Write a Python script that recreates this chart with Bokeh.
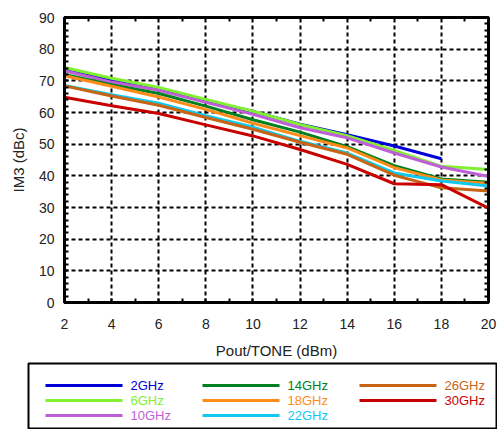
from bokeh.plotting import figure
from bokeh.models import FixedTicker, LinearAxis, Range1d, ColumnDataSource
from bokeh.core.properties import value
from bokeh.embed import file_html
from bokeh.resources import INLINE

# ---- data ----
pout = [2, 4, 6, 8, 10, 12, 14, 16, 18, 20]
labels = ["2GHz", "6GHz", "10GHz", "14GHz", "18GHz", "22GHz", "26GHz", "30GHz"]
colors = ["#0000d8", "#80f030", "#bf5fd8", "#008020", "#ff8c1a", "#10c8f0", "#c86414", "#c80000"]
im3_2g = [73.6, 70.2, 67.5, 63.7, 60.3, 56.3, 53.0, 49.4, 45.4]
im3_6g = [74.2, 70.8, 67.9, 64.1, 60.4, 56.2, 52.7, 48.0, 43.0, 42.0]
im3_10g = [73.2, 69.6, 67.0, 63.2, 59.4, 55.2, 52.0, 47.2, 42.8, 39.8]
im3_14g = [72.0, 68.8, 66.0, 62.0, 57.7, 53.8, 49.2, 43.2, 39.0, 38.0]
im3_18g = [71.6, 68.3, 64.9, 61.0, 56.6, 52.7, 48.8, 42.6, 38.7, 37.6]
im3_22g = [68.5, 65.6, 62.9, 59.0, 55.4, 50.9, 47.2, 40.9, 38.4, 36.8]
im3_26g = [68.4, 65.2, 62.3, 58.4, 54.7, 50.6, 46.8, 40.2, 36.2, 35.2]
im3_30g = [64.8, 62.1, 59.7, 56.1, 52.6, 48.3, 43.6, 37.5, 37.2, 29.8]
series = [im3_2g, im3_6g, im3_10g, im3_14g, im3_18g, im3_22g, im3_26g, im3_30g]

x_ticks = [2, 4, 6, 8, 10, 12, 14, 16, 18, 20]
x_minor = [3, 5, 7, 9, 11, 13, 15, 17, 19]
y_ticks = [0, 10, 20, 30, 40, 50, 60, 70, 80, 90]
y_minor = [v for v in range(0, 91, 2) if v % 10 != 0]

FONT = "Liberation Sans"

p = figure(width=497, height=361, x_range=Range1d(2, 20), y_range=Range1d(0, 90),
           output_backend="svg", toolbar_location=None,
           min_border_left=64, min_border_right=9, min_border_top=17, min_border_bottom=56)
p.background_fill_color = "white"
p.border_fill_color = "white"
p.outline_line_color = "black"
p.outline_line_width = 3

for ax in (p.xaxis[0], p.yaxis[0]):
    ax.axis_line_width = 3
    ax.axis_line_color = "black"
    ax.major_tick_out = 0
    ax.major_tick_in = 4
    ax.minor_tick_out = 0
    ax.minor_tick_in = 4
    ax.major_tick_line_width = 2
    ax.minor_tick_line_width = 2
    ax.major_label_text_font = FONT
    ax.major_label_text_font_size = "14px"
    ax.major_label_text_color = "#222222"
    ax.axis_label_text_font = FONT
    ax.axis_label_text_font_size = "15px"
    ax.axis_label_text_font_style = "normal"
    ax.axis_label_text_color = "#222222"

p.xaxis[0].ticker = FixedTicker(ticks=x_ticks, minor_ticks=x_minor)
p.yaxis[0].ticker = FixedTicker(ticks=y_ticks, minor_ticks=y_minor)
p.xaxis[0].axis_label = "Pout/TONE (dBm)"
p.yaxis[0].axis_label = "IM3 (dBc)"
p.xaxis[0].major_label_standoff = 16
p.yaxis[0].major_label_standoff = 10
p.xaxis[0].axis_label_standoff = 10
p.yaxis[0].axis_label_standoff = 9

right_ax = LinearAxis(ticker=FixedTicker(ticks=[], minor_ticks=y_minor))
top_ax = LinearAxis(ticker=FixedTicker(ticks=[], minor_ticks=x_minor))
for ax in (right_ax, top_ax):
    ax.axis_line_width = 3
    ax.axis_line_color = "black"
    ax.major_tick_out = 0
    ax.major_tick_in = 0
    ax.minor_tick_out = 0
    ax.minor_tick_in = 4
    ax.minor_tick_line_width = 2
p.add_layout(right_ax, "right")
p.add_layout(top_ax, "above")

p.xgrid.ticker = FixedTicker(ticks=x_ticks)
p.ygrid.ticker = FixedTicker(ticks=y_ticks)
for g in (p.xgrid[0], p.ygrid[0]):
    g.grid_line_color = "black"
    g.grid_line_dash = "4 3"
    g.grid_line_width = 2
    g.grid_line_alpha = 1.0

for vals, c in zip(series, colors):
    p.line(pout[:len(vals)], vals, line_color=c, line_width=3)

# ---- legend panel ----
p2 = figure(width=497, height=68, x_range=Range1d(0, 469), y_range=Range1d(66, 0),
            output_backend="svg", toolbar_location=None, x_axis_type=None, y_axis_type=None,
            min_border_left=28, min_border_right=0, min_border_top=2, min_border_bottom=0)
p2.grid.visible = False
p2.outline_line_color = "black"
p2.outline_line_width = 2
p2.background_fill_color = "white"
p2.border_fill_color = "white"

idx = list(range(len(labels)))
lx0 = [17 + 157 * (i // 3) for i in idx]
lx1 = [v + 77 for v in lx0]
ltx = [v + 85 for v in lx0]
ly = [22 + 15 * (i % 3) for i in idx]
src = ColumnDataSource(dict(x0=lx0, x1=lx1, tx=ltx, y=ly, label=labels, color=colors))
p2.segment("x0", "y", "x1", "y", source=src, line_color="color", line_width=3)
p2.text("tx", "y", text="label", source=src, text_color="color", text_font=value(FONT),
        text_font_size="13px", text_baseline="middle", text_align="left")

open("out.html", "w").write(file_html([p, p2], INLINE))
